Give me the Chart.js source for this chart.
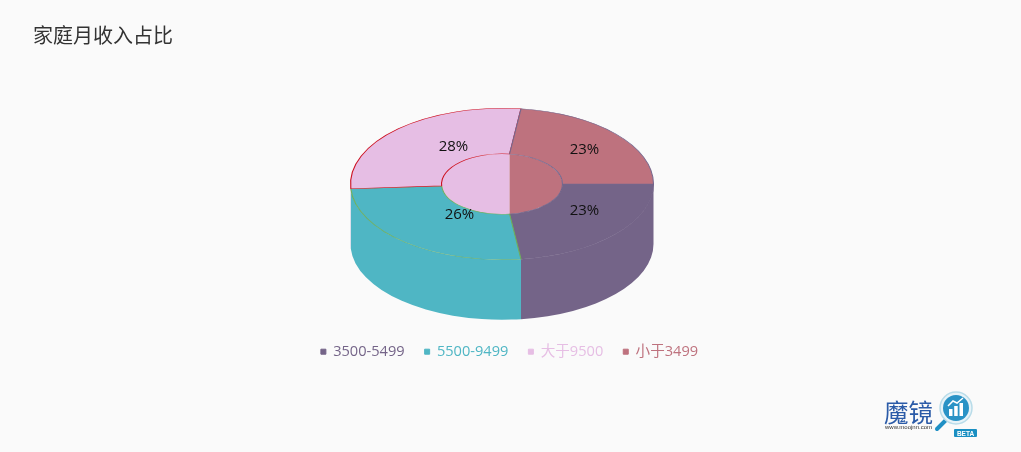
<!DOCTYPE html>
<html lang="zh">
<head>
<meta charset="utf-8">
<title>家庭月收入占比</title>
<script src="https://cdn.jsdelivr.net/npm/chart.js@4"></script>
<style>
  body { margin: 0; background: #fafafa; }
  #wrap { position: relative; width: 1021px; height: 452px; overflow: hidden; }
  #logo { position: absolute; left: 880px; top: 388px; }
</style>
</head>
<body>
<div id="wrap">
  <canvas id="pie" width="1021" height="452"></canvas>
  <svg id="logo" width="105" height="56" viewBox="0 0 105 56">
    <text x="4" y="34" font-family="'Noto Sans CJK SC'" font-size="24.5" fill="#2b5ba8">魔镜</text>
    <text x="5" y="41" font-family="Liberation Sans" font-size="6" fill="#333">www.moojnn.com</text>
    <line x1="66" y1="32" x2="57" y2="41" stroke="#1f8fc4" stroke-width="4" stroke-linecap="round"/>
    <circle cx="76" cy="20" r="16" fill="#e8f3f8" stroke="#b9dce9" stroke-width="1.5"/>
    <circle cx="76" cy="20" r="13" fill="#2a93c6"/>
    <rect x="69" y="21" width="3.5" height="7" fill="#fff"/>
    <rect x="74.2" y="18" width="3.5" height="10" fill="#fff"/>
    <rect x="79.5" y="15" width="3.5" height="13" fill="#fff"/>
    <polyline points="68,18 73,13 77,15 83,10" fill="none" stroke="#fff" stroke-width="1.5"/>
    <rect x="74" y="41" width="23" height="8" rx="1" fill="#1a8fc2"/>
    <text x="85.5" y="47.5" text-anchor="middle" font-family="Liberation Sans" font-weight="bold" font-size="6.5" fill="#fff">BETA</text>
  </svg>
</div>
<script>
  const categories = ["3500-5499", "5500-9499", "大于9500", "小于3499"];
  const shares = [23, 26, 28, 23];
  const titleText = "家庭月收入占比";

  const fillColors = ["#746488", "#4fb6c4", "#e6bee4", "#be727e"];
  const edgeColors = ["#746488", "#6fae5a", "#cc1020", "#76688e"];

  // the ring is squashed to an ellipse and given a side wall of this height
  const SQUASH = 0.5;
  const DEPTH = 60;
  const CENTER = {x: 502, y: 184};
  const LABEL_NUDGE = [[3, -8], [25, -10], [24, 1], [3, 1]];

  function drawWall(ctx, arc, radius, depth, from, to, color) {
    const start = Math.max(arc.startAngle, from);
    const end = Math.min(arc.endAngle, to);
    if (start >= end) {
      return;
    }
    const ry = radius * SQUASH;
    ctx.beginPath();
    ctx.ellipse(CENTER.x, CENTER.y, radius, ry, 0, start, end);
    ctx.ellipse(CENTER.x, CENTER.y + depth, radius, ry, 0, end, start, true);
    ctx.closePath();
    ctx.fillStyle = color;
    ctx.fill();
  }

  const ringPlugin = {
    id: "ring3d",
    beforeDatasetsDraw(chart) {
      const ctx = chart.ctx;
      const arcs = chart.getDatasetMeta(0).data;
      const inner = arcs[0].innerRadius;

      arcs.forEach((arc, i) => {
        drawWall(ctx, arc, arc.outerRadius, DEPTH, 0, Math.PI, fillColors[i]);
      });

      // far side of the hole, only seen through the hole itself
      ctx.save();
      ctx.beginPath();
      ctx.ellipse(CENTER.x, CENTER.y, inner, inner * SQUASH, 0, 0, Math.PI * 2);
      ctx.clip();
      arcs.forEach((arc, i) => {
        drawWall(ctx, arc, inner, DEPTH + 3, Math.PI, Math.PI * 2, fillColors[i]);
      });
      ctx.restore();

      // stays open until afterDatasetsDraw so the arcs land on the ellipse
      ctx.save();
      ctx.translate(CENTER.x, CENTER.y);
      ctx.scale(1, SQUASH);
      ctx.translate(-arcs[0].x, -arcs[0].y);
    },
    afterDatasetsDraw(chart) {
      const ctx = chart.ctx;
      ctx.restore();

      const arcs = chart.getDatasetMeta(0).data;
      ctx.save();
      ctx.font = "15px 'Open Sans', 'Noto Sans CJK SC'";
      ctx.fillStyle = "#111";
      ctx.textAlign = "center";
      ctx.textBaseline = "middle";
      arcs.forEach((arc, i) => {
        const mid = (arc.startAngle + arc.endAngle) / 2;
        const r = (arc.innerRadius + arc.outerRadius) / 2;
        const x = CENTER.x + Math.cos(mid) * r + LABEL_NUDGE[i][0];
        const y = CENTER.y + Math.sin(mid) * r * SQUASH + LABEL_NUDGE[i][1];
        ctx.fillText(shares[i] + "%", x, y);
      });
      ctx.restore();
    },
  };

  new Chart(document.getElementById("pie"), {
    type: "doughnut",
    data: {
      labels: categories,
      datasets: [{
        data: shares,
        backgroundColor: fillColors,
        borderColor: edgeColors,
        borderWidth: 1.1,
        hoverOffset: 0,
      }],
    },
    plugins: [ringPlugin],
    options: {
      responsive: false,
      animation: false,
      rotation: 90,
      radius: 151.5,
      cutout: "39.9%",
      layout: {padding: {left: 33, right: 35, top: 10, bottom: 83}},
      plugins: {
        tooltip: {enabled: false},
        title: {
          display: true,
          text: titleText,
          align: "start",
          color: "#333",
          font: {family: "'Noto Sans CJK SC'", size: 20, weight: "normal"},
          padding: {top: 13, bottom: 10},
        },
        legend: {
          position: "bottom",
          labels: {
            // small box plus a stroke keeps the text as close to it as in the picture
            boxWidth: 5,
            boxHeight: 5,
            padding: 20,
            font: {family: "'Open Sans', 'Noto Sans CJK SC'", size: 14.6},
            generateLabels() {
              return categories.map((name, i) => ({
                text: name,
                fillStyle: fillColors[i],
                strokeStyle: fillColors[i],
                fontColor: fillColors[i],
                lineWidth: 1,
                index: i,
              }));
            },
          },
        },
      },
    },
  });
</script>
</body>
</html>
